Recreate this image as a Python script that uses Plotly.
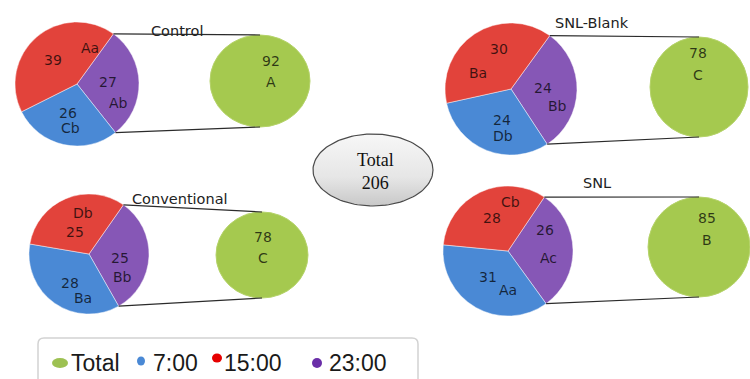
import numpy as np
import plotly.graph_objects as go

W, H = 750, 379

# ---- data -------------------------------------------------------------
groups = ["Control", "SNL-Blank", "Conventional", "SNL"]
times = ["7:00", "15:00", "23:00"]
v_0700 = [26, 24, 28, 31]
v_1500 = [39, 30, 25, 28]
v_2300 = [27, 24, 25, 26]
let_0700 = ["Cb", "Db", "Ba", "Aa"]
let_1500 = ["Aa", "Ba", "Db", "Cb"]
let_2300 = ["Ab", "Bb", "Bb", "Ac"]
total_letters = ["A", "C", "C", "B"]
grand_total = 206

totals = [a + b + c for a, b, c in zip(v_0700, v_1500, v_2300)]

# ---- styling / layout (pixel coordinates, y grows downward) -----------
COL = {"7:00": "#4a89d5", "15:00": "#e2433b", "23:00": "#8657b6", "Total": "#a5c94f"}
LEG_COL = {"Total": "#9dc152", "7:00": "#4a89d5", "15:00": "#e60000", "23:00": "#6a2ea8"}
LABEL_FONT = dict(family="DejaVu Sans", size=14, color="rgba(0,0,0,0.72)")
TITLE_FONT = dict(family="DejaVu Sans", size=14.5, color="#222222")

panels = [
    dict(pie=(77, 84, 62), rot=36, disc=(260, 81, 50, 46), title=(177, 31),
         lab={"23:00": ((108, 82), (118, 103)), "7:00": ((68, 113), (70, 128)),
              "15:00": ((53, 60), (90, 48))},
         tot=((271, 61), (271, 82))),
    dict(pie=(511, 89, 66), rot=36, disc=(699, 87, 49, 50), title=(592, 23),
         lab={"23:00": ((543, 88), (557, 106)), "7:00": ((502, 120), (503, 136)),
              "15:00": ((499, 49), (478, 73))},
         tot=((698, 53), (698, 75))),
    dict(pie=(89, 254, 60), rot=35, disc=(262, 255, 46, 43), title=(180, 199),
         lab={"23:00": ((120, 258), (122, 277)), "7:00": ((70, 283), (83, 298)),
              "15:00": ((75, 232), (83, 213))},
         tot=((263, 237), (263, 258))),
    dict(pie=(508, 251, 65), rot=34, disc=(699, 247, 51, 50), title=(597, 183),
         lab={"23:00": ((545, 230), (548, 258)), "7:00": ((488, 277), (508, 290)),
              "15:00": ((492, 218), (510, 202))},
         tot=((707, 218), (707, 240))),
]

fig = go.Figure()
shapes, annos = [], []

for i, p in enumerate(panels):
    cx, cy, r = p["pie"]
    vals = {"7:00": v_0700[i], "15:00": v_1500[i], "23:00": v_2300[i]}
    lets = {"7:00": let_0700[i], "15:00": let_1500[i], "23:00": let_2300[i]}
    order = ["23:00", "7:00", "15:00"]
    fig.add_trace(go.Pie(
        values=[vals[t] for t in order],
        labels=order,
        sort=False, direction="clockwise", rotation=p["rot"],
        marker=dict(colors=[COL[t] for t in order],
                    line=dict(color="rgba(255,255,255,0.45)", width=1)),
        textinfo="none", hoverinfo="label+value", showlegend=False,
        domain=dict(x=[(cx - r) / W, (cx + r) / W],
                    y=[1 - (cy + r) / H, 1 - (cy - r) / H]),
    ))
    for t in order:
        (vx, vy), (lx, ly) = p["lab"][t]
        annos.append(dict(x=vx, y=vy, text=str(vals[t]), showarrow=False, font=LABEL_FONT))
        annos.append(dict(x=lx, y=ly, text=lets[t], showarrow=False, font=LABEL_FONT))

    # secondary disc holding the group total
    dcx, dcy, drx, dry = p["disc"]
    shapes.append(dict(type="circle", xref="x", yref="y",
                       x0=dcx - drx, x1=dcx + drx, y0=dcy - dry, y1=dcy + dry,
                       fillcolor=COL["Total"], line=dict(color="#b5d36a", width=1),
                       layer="below"))
    (tx, ty), (ux, uy) = p["tot"]
    annos.append(dict(x=tx, y=ty, text=str(totals[i]), showarrow=False, font=LABEL_FONT))
    annos.append(dict(x=ux, y=uy, text=total_letters[i], showarrow=False, font=LABEL_FONT))

    # connector lines from the 23:00 slice edges to the disc
    a1 = np.deg2rad(p["rot"])
    a2 = np.deg2rad(p["rot"] + 360 * vals["23:00"] / totals[i])
    for a, yy in ((a1, dcy - dry), (a2, dcy + dry)):
        shapes.append(dict(type="line", xref="x", yref="y",
                           x0=cx + r * np.sin(a), y0=cy - r * np.cos(a),
                           x1=dcx, y1=yy, line=dict(color="#2b2b2b", width=1.2)))

    annos.append(dict(x=p["title"][0], y=p["title"][1], text=groups[i],
                      showarrow=False, font=TITLE_FONT))

# central "Total" ellipse
th = np.linspace(0, 2 * np.pi, 121)
ecx, ecy, erx, ery = 373, 170, 60, 36
fig.add_trace(go.Scatter(
    x=ecx + erx * np.cos(th), y=ecy + ery * np.sin(th),
    mode="lines", fill="toself",
    line=dict(color="#4a4a4a", width=1.2),
    fillgradient=dict(type="vertical", start=ecy - ery, stop=ecy + ery,
                      colorscale=[[0, "#f7f7f7"], [0.6, "#e6e6e6"], [1, "#c8c8c8"]]),
    hoverinfo="skip", showlegend=False,
))
annos.append(dict(x=ecx + 2, y=ecy + 1, text=f"Total<br>{grand_total}", showarrow=False,
                  font=dict(family="Liberation Serif", size=18, color="#111111")))

# legend box with rounded corners
lx0, ly0, lx1, ly1, rc = 38, 338, 418, 392, 6
shapes.append(dict(
    type="path", xref="x", yref="y",
    path=(f"M{lx0+rc},{ly0} L{lx1-rc},{ly0} Q{lx1},{ly0} {lx1},{ly0+rc} "
          f"L{lx1},{ly1-rc} Q{lx1},{ly1} {lx1-rc},{ly1} L{lx0+rc},{ly1} "
          f"Q{lx0},{ly1} {lx0},{ly1-rc} L{lx0},{ly0+rc} Q{lx0},{ly0} {lx0+rc},{ly0} Z"),
    line=dict(color="#d2d2d2", width=1.5), fillcolor="white", layer="below"))

legend_items = ["Total"] + times
leg_marker = {"Total": (60, 363, 8, 5), "7:00": (141, 361, 4, 4.5),
              "15:00": (217, 358, 5, 4.5), "23:00": (317, 363, 5, 5)}
leg_text_x = {"Total": 69, "7:00": 151, "15:00": 222, "23:00": 327}
for name in legend_items:
    mx, my, mrx, mry = leg_marker[name]
    shapes.append(dict(type="circle", xref="x", yref="y",
                       x0=mx - mrx, x1=mx + mrx, y0=my - mry, y1=my + mry,
                       fillcolor=LEG_COL[name], line=dict(width=0)))
    annos.append(dict(x=leg_text_x[name], y=363, text=name, xanchor="left",
                      showarrow=False,
                      font=dict(family="Liberation Sans", size=23, color="#1a1a1a")))

fig.update_layout(
    width=W, height=H, margin=dict(l=0, r=0, t=0, b=0),
    paper_bgcolor="white", plot_bgcolor="white",
    xaxis=dict(range=[0, W], visible=False, domain=[0, 1], fixedrange=True),
    yaxis=dict(range=[H, 0], visible=False, domain=[0, 1], fixedrange=True),
    shapes=shapes, annotations=[dict(a, xref="x", yref="y") for a in annos],
    showlegend=False,
)

fig.write_html("out.html")
